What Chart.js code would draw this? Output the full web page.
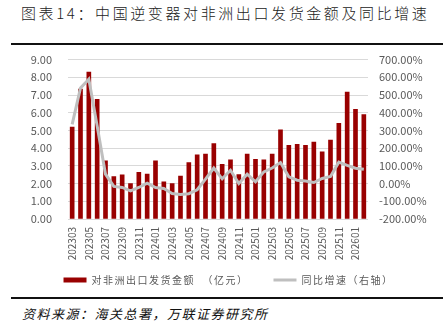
<!DOCTYPE html>
<html>
<head>
<meta charset="utf-8">
<script src="https://cdn.jsdelivr.net/npm/chart.js@4"></script>
<style>
  html, body { margin: 0; padding: 0; background: #fff; }
  body { width: 443px; height: 335px; position: relative; overflow: hidden;
         font-family: 'Noto Sans CJK SC', sans-serif; }
  #title { position: absolute; left: 21px; top: 2px; font-size: 15px; letter-spacing: 2.6px;
           font-weight: 300; color: #222; white-space: nowrap; }
  .rule { position: absolute; left: 11px; right: 0; height: 2px; background: #111; }
  #wrap { position: absolute; left: 0; top: 37px; width: 443px; height: 259px; }
  #source { position: absolute; left: 22px; top: 304px; font-size: 13px; font-style: italic;
            letter-spacing: 1.5px; color: #111; white-space: nowrap; }
</style>
</head>
<body>
<div id="title">图表14：中国逆变器对非洲出口发货金额及同比增速</div>
<div class="rule" style="top:43px"></div>
<div id="wrap"><canvas id="c"></canvas></div>
<div class="rule" style="top:297px"></div>
<div id="source">资料来源：海关总署，万联证券研究所</div>
<script>
// ── Data ──────────────────────────────────────────────────────────────────────

const months = [
    '202303', '202304', '202305', '202306', '202307', '202308', '202309', '202310', '202311', '202312',
    '202401', '202402', '202403', '202404', '202405', '202406', '202407', '202408', '202409', '202410', '202411', '202412',
    '202501', '202502', '202503', '202504', '202505', '202506', '202507', '202508', '202509', '202510', '202511', '202512',
    '202601', '202602',
];

// 对非洲出口发货金额（亿元）
const exportValue = [
    5.19, 7.33, 8.29, 6.75, 3.28, 2.40, 2.49, 2.00, 2.64, 2.53,
    3.28, 2.10, 2.00, 2.42, 3.19, 3.62, 3.66, 4.26, 3.09, 3.34, 2.51, 3.66,
    3.37, 3.34, 3.66, 5.04, 4.16, 4.22, 4.16, 4.35, 3.79, 4.46, 5.40, 7.16,
    6.19, 5.89,
];

// 同比增速（%）
const yoyGrowth = [
    334, 540, 589, 325, 53, -16, -22, -41, -22, 2,
    -22, -28, -56, -62, -57, -35, 25, 88, 27, 75, 0, 53,
    10, 66, 88, 119, 38, 19, 15, 6, 29, 40, 121, 103,
    87, 81,
];

const barLabel = '对非洲出口发货金额  （亿元）';
const lineLabel = '同比增速（右轴）';

const tickFont = { family: 'Noto Sans CJK SC', size: 11 };
const tickColor = '#595959';

// ── Legend tweaks: tracked CJK text, wide item gap, compact box ───────────────

const legendSpacing = {
    id: 'legendSpacing',
    afterInit(chart) {
        const lg = chart.legend;
        const { ctx } = chart;
        const fit = lg.fit;
        const draw = lg.draw;
        lg.fit = function () {
            ctx.letterSpacing = '1.5px';
            fit.call(this);
            ctx.letterSpacing = '0px';
            this.height = 33;
        };
        lg.draw = function () {
            const top = this.top;
            this.top = top - 13;
            ctx.letterSpacing = '1.5px';
            draw.call(this);
            ctx.letterSpacing = '0px';
            this.top = top;
        };
    },
};

// ── Chart ─────────────────────────────────────────────────────────────────────

new Chart(document.getElementById('c'), {
    type: 'bar',
    data: {
        labels: months,
        datasets: [
            {
                type: 'line',
                label: lineLabel,
                data: yoyGrowth,
                yAxisID: 'yR',
                borderColor: '#bfbfbf',
                backgroundColor: '#bfbfbf',
                borderWidth: 3,
                pointRadius: 0,
                tension: 0,
                pointStyle: 'line',
                order: 0,
            },
            {
                label: barLabel,
                data: exportValue,
                yAxisID: 'y',
                backgroundColor: '#990000',
                borderWidth: 0,
                barThickness: 4,
                pointStyle: 'rect',
                order: 1,
            },
        ],
    },
    options: {
        responsive: true,
        maintainAspectRatio: false,
        animation: false,
        layout: { padding: { top: 5, left: 14, right: 0, bottom: 0 } },
        plugins: {
            tooltip: { enabled: false },
            legend: {
                position: 'bottom',
                reverse: true,
                labels: {
                    usePointStyle: true,
                    pointStyleWidth: 23,
                    boxHeight: 5,
                    padding: 25,
                    color: tickColor,
                    font: { family: 'Noto Sans CJK SC', size: 10 },
                },
            },
        },
        scales: {
            x: {
                offset: true,
                grid: { display: false, drawTicks: false },
                border: { display: false },
                ticks: {
                    autoSkip: false,
                    maxRotation: 90,
                    minRotation: 90,
                    padding: 8,
                    color: tickColor,
                    font: { family: 'Noto Sans CJK SC', size: 10 },
                    callback(v, i) { return i % 2 === 0 ? months[i] : ''; },
                },
                afterFit(scale) { scale.height = 44; },
            },
            y: {
                position: 'left',
                min: 0,
                max: 9,
                grid: { color: '#d9d9d9', drawTicks: false },
                border: { display: false },
                ticks: {
                    stepSize: 1,
                    padding: 16,
                    color: tickColor,
                    font: tickFont,
                    callback: (v) => v.toFixed(2),
                },
                afterFit(scale) { scale.width = 54; },
            },
            yR: {
                position: 'right',
                min: -200,
                max: 700,
                grid: { display: false, drawTicks: false },
                border: { display: false },
                ticks: {
                    stepSize: 100,
                    padding: 11,
                    color: tickColor,
                    font: tickFont,
                    callback: (v) => v.toFixed(2) + '%',
                },
                afterFit(scale) { scale.width = 75; },
            },
        },
    },
    plugins: [legendSpacing],
});
</script>
</body>
</html>
